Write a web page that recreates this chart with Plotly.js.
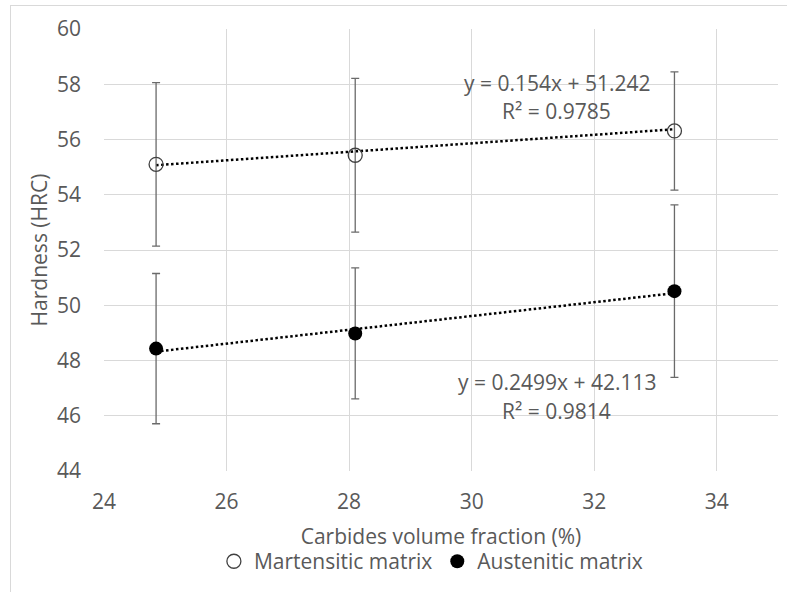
<!DOCTYPE html>
<html>
<head>
<meta charset="utf-8">
<script src="https://cdn.plot.ly/plotly-3.0.1.min.js"></script>
<style>
html,body{margin:0;padding:0;background:#fff;}
#wrap{position:relative;width:787px;height:592px;}
#chart{width:787px;height:592px;}
#frame{position:absolute;left:10px;top:5px;width:790px;height:600px;border-left:1px solid #d9d9d9;border-top:1px solid #d9d9d9;pointer-events:none;}
</style>
</head>
<body>
<div id="wrap"><div id="chart"></div><div id="frame"></div></div>
<script>
// Data
const carbides = [24.85, 28.10, 33.31];
const martensitic = [55.10, 55.43, 56.31];
const martensiticErr = [2.96, 2.78, 2.14];
const austenitic = [48.43, 48.98, 50.51];
const austeniticErr = [2.72, 2.37, 3.12];
// Trendline coefficients shown on the chart
const martFit = {slope: 0.154, intercept: 51.242, r2: 0.9785};
const austFit = {slope: 0.2499, intercept: 42.113, r2: 0.9814};
const seriesNames = ['Martensitic matrix', 'Austenitic matrix'];
const xTitle = 'Carbides volume fraction (%)';
const yTitle = 'Hardness (HRC)';

const FONT = 'Open Sans, Noto Sans, sans-serif';
const GREY = '#595959';
const FS = 21;

const xMin = Math.min(...carbides), xMax = Math.max(...carbides);
const fitLine = f => ({x: [xMin, xMax], y: [f.slope * xMin + f.intercept, f.slope * xMax + f.intercept]});
const mLine = fitLine(martFit), aLine = fitLine(austFit);

const traces = [
  {x: mLine.x, y: mLine.y, mode: 'lines', showlegend: false, hoverinfo: 'skip',
   line: {color: '#000', width: 2.5, dash: '2.5px,2.5px'}},
  {x: aLine.x, y: aLine.y, mode: 'lines', showlegend: false, hoverinfo: 'skip',
   line: {color: '#000', width: 2.5, dash: '2.5px,2.5px'}},
  {x: carbides, y: martensitic, mode: 'markers', name: seriesNames[0],
   marker: {symbol: 'circle', size: 14, color: 'rgba(255,255,255,0)', line: {color: '#404040', width: 1.3}},
   error_y: {type: 'data', array: martensiticErr, visible: true, color: '#6a6a6a', thickness: 1.3, width: 4}},
  {x: carbides, y: austenitic, mode: 'markers', name: seriesNames[1],
   marker: {symbol: 'circle', size: 14, color: '#000', line: {color: '#000', width: 0}},
   error_y: {type: 'data', array: austeniticErr, visible: true, color: '#6a6a6a', thickness: 1.3, width: 4}}
];

const fmtEq = f => 'y = ' + f.slope + 'x + ' + f.intercept;
const fmtR = f => 'R² = ' + f.r2;

const layout = {
  width: 787, height: 592,
  margin: {l: 103.6, r: 9.4, t: 29, b: 121.3, pad: 0},
  paper_bgcolor: '#fff', plot_bgcolor: '#fff',
  font: {family: FONT, color: GREY, size: FS},
  showlegend: true,
  legend: {orientation: 'h', x: 0.485, xanchor: 'center', y: -0.205, yanchor: 'middle',
           font: {family: FONT, size: FS, color: GREY}, itemwidth: 30, tracegroupgap: 0},
  xaxis: {range: [24, 35], dtick: 2, tick0: 24, showgrid: true, gridcolor: '#d9d9d9', gridwidth: 1,
          zeroline: false, showline: false, ticks: '', ticklabelstandoff: 16,
          tickfont: {family: FONT, size: FS, color: GREY},
          title: {text: xTitle, font: {family: FONT, size: FS, color: GREY}, standoff: 15}},
  yaxis: {range: [44, 60], dtick: 2, tick0: 44, showgrid: true, gridcolor: '#d9d9d9', gridwidth: 1,
          zeroline: false, showline: false, ticks: '', ticklabelstandoff: 22,
          tickfont: {family: FONT, size: FS, color: GREY},
          title: {text: yTitle, font: {family: FONT, size: FS, color: GREY}, standoff: 3}},
  annotations: [
    {x: 31.39, y: 58.06, xref: 'x', yref: 'y', text: fmtEq(martFit), showarrow: false, font: {family: FONT, size: FS, color: GREY}},
    {x: 31.39, y: 57.04, xref: 'x', yref: 'y', text: fmtR(martFit), showarrow: false, font: {family: FONT, size: FS, color: GREY}},
    {x: 31.39, y: 47.23, xref: 'x', yref: 'y', text: fmtEq(austFit), showarrow: false, font: {family: FONT, size: FS, color: GREY}},
    {x: 31.39, y: 46.18, xref: 'x', yref: 'y', text: fmtR(austFit), showarrow: false, font: {family: FONT, size: FS, color: GREY}}
  ]
};

Plotly.newPlot('chart', traces, layout, {displayModeBar: false, staticPlot: true});
</script>
</body>
</html>
